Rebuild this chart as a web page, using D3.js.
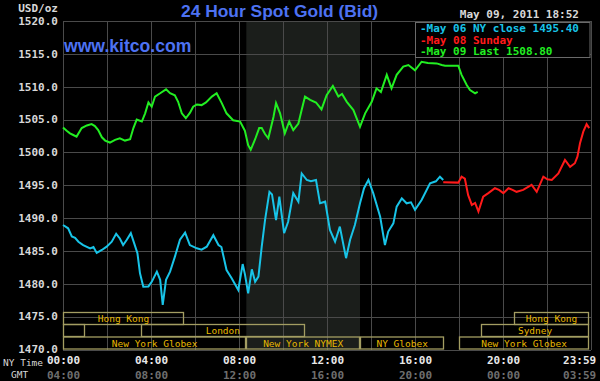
<!DOCTYPE html>
<html><head><meta charset="utf-8">
<script src="https://cdnjs.cloudflare.com/ajax/libs/d3/7.8.5/d3.min.js"></script>
<style>
html,body{margin:0;padding:0;background:#000;}
svg{display:block;}
</style></head>
<body>
<svg id="chart" width="600" height="381"></svg>
<script>
const titleText = "24 Hour Spot Gold (Bid)";
const siteText = "www.kitco.com";
const dateText = "May 09, 2011 18:52";
const unitText = "USD/oz";

const yTicks = [1470, 1475, 1480, 1485, 1490, 1495, 1500, 1505, 1510, 1515, 1520];
const xTickMinutes = [0, 240, 480, 720, 960, 1200, 1439];
const nyTimeLabels = ["00:00", "04:00", "08:00", "12:00", "16:00", "20:00", "23:59"];
const gmtTimeLabels = ["04:00", "08:00", "12:00", "16:00", "20:00", "00:00", "03:59"];
const gridMinutes = [0,120,240,360,480,600,720,840,960,1080,1200,1320,1440];

const legendLabels = ["-May 06 NY close 1495.40", "-May 08 Sunday", "-May 09 Last 1508.80"];

// May 06 (cyan)
const may06Times = [0,14,24,33,42,55,74,83,92,106,119,133,145,155,164,174,185,194,203,210,219,233,242,256,265,272,281,292,305,319,333,346,365,378,392,410,424,432,446,460,478,490,496,505,515,524,533,542,551,563,570,581,590,603,614,628,642,651,665,676,690,701,715,728,742,755,772,783,796,810,821,833,846,865,878,887,901,910,924,937,949,960,978,1001,1017,1028,1037];
const may06Values = [1488.95,1488.45,1487.2,1487.0,1486.4,1485.9,1485.4,1485.6,1484.7,1485.15,1485.65,1486.4,1487.6,1486.9,1485.9,1486.7,1487.7,1486.2,1484.65,1481.6,1479.55,1479.6,1480.3,1481.85,1480.6,1476.8,1480.6,1481.85,1484.1,1486.7,1487.8,1485.9,1485.4,1485.2,1485.65,1487.4,1485.9,1485.6,1482.1,1480.85,1479.05,1483.0,1481.5,1478.55,1482.2,1480.3,1481.1,1485.65,1489.7,1494.0,1493.6,1489.7,1493.25,1487.7,1489.45,1493.8,1492.5,1496.8,1495.8,1495.6,1495.8,1492.25,1492.5,1488.2,1486.4,1488.7,1483.9,1486.7,1488.95,1492.25,1494.55,1495.8,1493.8,1490.2,1485.9,1487.95,1489.2,1491.75,1493.0,1492.25,1492.4,1491.25,1492.75,1495.3,1495.6,1496.3,1495.8];

// May 08 Sunday (red)
const may08Times = [1037,1078,1087,1096,1105,1115,1124,1133,1146,1160,1178,1189,1201,1215,1226,1237,1255,1278,1292,1310,1321,1333,1351,1369,1383,1396,1403,1410,1419,1428,1435];
const may08Values = [1495.45,1495.4,1496.3,1496.0,1493.5,1492.0,1492.3,1491.0,1493.25,1493.8,1494.55,1494.3,1493.8,1494.55,1494.3,1494.0,1494.3,1495.05,1494.0,1496.3,1495.9,1495.8,1496.8,1498.85,1497.8,1498.35,1499.35,1501.4,1503.15,1504.3,1503.7];

// May 09 (green)
const may09Times = [0,10,19,28,37,51,65,78,87,96,106,115,128,142,155,169,183,192,201,215,224,233,242,251,265,281,292,305,314,324,335,346,355,365,378,390,406,419,433,446,464,483,496,505,512,524,535,542,551,560,574,581,592,605,617,628,642,651,660,674,690,705,719,736,751,761,774,792,810,824,842,855,867,883,896,910,928,942,960,978,995,1019,1033,1042,1078,1087,1101,1110,1124,1131];
const may09Values = [1503.8,1503.3,1502.9,1502.65,1502.4,1503.7,1504.1,1504.3,1504.0,1503.4,1502.3,1501.8,1501.5,1501.9,1502.15,1501.8,1502.0,1503.7,1505.0,1504.7,1505.95,1507.6,1506.95,1508.5,1509.0,1509.6,1509.0,1508.7,1507.7,1505.95,1505.2,1506.0,1506.95,1507.3,1507.2,1507.6,1508.5,1509.0,1507.5,1505.95,1504.9,1504.7,1503.3,1501.1,1500.4,1502.0,1503.7,1503.7,1502.8,1502.15,1505.4,1507.5,1505.95,1502.9,1504.7,1503.4,1504.4,1506.5,1508.5,1508.0,1507.6,1506.55,1508.7,1510.1,1508.5,1508.9,1507.7,1506.45,1503.9,1505.95,1507.7,1509.75,1509.2,1511.8,1509.75,1511.8,1513.05,1513.3,1512.5,1513.8,1513.6,1513.55,1513.3,1513.2,1513.2,1511.8,1510.25,1509.5,1509.0,1509.2];

// market sessions: row, start minute, end minute, label
const sessionRows = [0, 0, 1, 1, 1, 2, 2, 2, 2];
const sessionStarts = [0, 1230, 0, 212, 1140, 0, 500, 810, 1080];
const sessionEnds = [330, 1435, 60, 660, 1435, 500, 810, 1040, 1435];
const sessionLabels = ["Hong Kong", "Hong Kong", "", "London", "Sydney", "New York Globex", "New York NYMEX", "NY Globex", "New York Globex"];
const nymexShade = [500, 810];

const svg = d3.select("#chart");
const W = 600, H = 381;
svg.append("rect").attr("width", W).attr("height", H).attr("fill", "#000");

const x = d3.scaleLinear().domain([0, 1440]).range([63, 591]);
const y = d3.scaleLinear().domain([1470, 1520]).range([349.5, 21]);

const mono = "'DejaVu Sans Mono', monospace";

// shaded NYMEX region
svg.append("rect")
  .attr("x", x(nymexShade[0])).attr("y", y(1520))
  .attr("width", x(nymexShade[1]) - x(nymexShade[0]))
  .attr("height", y(1470) - y(1520))
  .attr("fill", "#1b1e1b");

// gridlines
const grid = svg.append("g").attr("stroke", "#4a4a4a").attr("stroke-width", 1).attr("shape-rendering", "crispEdges");
grid.selectAll("line.h").data(yTicks).join("line")
  .attr("x1", x(0)).attr("x2", x(1440))
  .attr("y1", d => Math.round(y(d)) + 0.5).attr("y2", d => Math.round(y(d)) + 0.5);
grid.selectAll("line.v").data(gridMinutes).join("line")
  .attr("y1", y(1520)).attr("y2", y(1470))
  .attr("x1", d => Math.round(x(d)) + 0.5).attr("x2", d => Math.round(x(d)) + 0.5);

// sessions
const rowTop = [312.5, 324.5, 337];
const rowH = 12;
const sess = sessionRows.map((r, i) => ({row: r, s: sessionStarts[i], e: sessionEnds[i], label: sessionLabels[i]}));
const sg = svg.append("g");
sg.selectAll("rect").data(sess).join("rect")
  .attr("x", d => Math.round(x(d.s)) + 0.5)
  .attr("y", d => rowTop[d.row])
  .attr("width", d => Math.round(x(d.e)) - Math.round(x(d.s)) - 1)
  .attr("height", rowH)
  .attr("fill", "none").attr("stroke", "#a39d62").attr("stroke-width", 1.3);
sg.selectAll("text").data(sess.filter(d => d.label)).join("text")
  .attr("x", d => (x(d.s) + x(d.e)) / 2)
  .attr("y", d => rowTop[d.row] + 9.5)
  .attr("text-anchor", "middle")
  .attr("font-family", mono).attr("font-size", "9.5px")
  .attr("fill", "#e8b800")
  .text(d => d.label);

// lines
const line = d3.line().x(d => x(d.t)).y(d => y(d.v));
const zip = (ts, vs) => ts.map((t, i) => ({t, v: vs[i]}));
const series = [
  {data: zip(may06Times, may06Values), color: "#18c4e8"},
  {data: zip(may08Times, may08Values), color: "#ff1a1a"},
  {data: zip(may09Times, may09Values), color: "#22ee22"}
];
svg.append("g").selectAll("path").data(series).join("path")
  .attr("d", d => line(d.data))
  .attr("fill", "none")
  .attr("stroke", d => d.color)
  .attr("stroke-width", 2)
  .attr("stroke-linejoin", "miter");

// y axis
const yAxis = d3.axisLeft(y).tickValues(yTicks).tickSize(0).tickPadding(5).tickFormat(d3.format(".1f"));
const ya = svg.append("g").attr("transform", `translate(${x(0)},0)`).call(yAxis);
ya.select(".domain").remove();
ya.selectAll("text").attr("font-family", mono).attr("font-size", "11px").attr("font-weight", "bold").attr("fill", "#d8d8d8").attr("dy", "0.3em");

svg.append("text").attr("x", 58).attr("y", 11.5).attr("text-anchor", "end")
  .attr("font-family", mono).attr("font-size", "11px").attr("font-weight", "bold").attr("fill", "#d8d8d8").text(unitText);

// x axis NY
const xAxisNY = d3.axisBottom(x).tickValues(xTickMinutes).tickSize(0).tickPadding(0)
  .tickFormat((d, i) => nyTimeLabels[i]);
const xa = svg.append("g").attr("transform", `translate(0,355)`).call(xAxisNY);
xa.select(".domain").remove();
xa.selectAll("text").attr("font-family", mono).attr("font-size", "11px").attr("font-weight", "bold").attr("fill", "#e8e8e8").attr("dy", "0.8em");
const xAxisGMT = d3.axisBottom(x).tickValues(xTickMinutes).tickSize(0).tickPadding(0)
  .tickFormat((d, i) => gmtTimeLabels[i]);
const xg = svg.append("g").attr("transform", `translate(0,370)`).call(xAxisGMT);
xg.select(".domain").remove();
xg.selectAll("text").attr("font-family", mono).attr("font-size", "11px").attr("font-weight", "bold").attr("fill", "#6e6e6e").attr("dy", "0.8em");
[xa, xg].forEach(g => g.selectAll(".tick").filter((d, i) => i === xTickMinutes.length - 1)
  .select("text").attr("text-anchor", "end").attr("dx", "5"));

svg.append("text").attr("x", 3).attr("y", 365.5).attr("font-family", mono).attr("font-size", "9.5px").attr("fill", "#d8d8d8").text("NY Time");
svg.append("text").attr("x", 11).attr("y", 377.5).attr("font-family", mono).attr("font-size", "9.5px").attr("fill", "#d8d8d8").text("GMT");

// title, site, date
svg.append("text").attr("x", 181).attr("y", 17).attr("font-family", "'Liberation Sans', Arial, sans-serif")
  .attr("font-size", "17.4px").attr("font-weight", "bold").attr("fill", "#4d72f2").text(titleText);
svg.append("text").attr("x", 64).attr("y", 52).attr("font-family", "'Liberation Sans', Arial, sans-serif")
  .attr("font-size", "17.6px").attr("font-weight", "bold").attr("fill", "#4d72f2").text(siteText);
svg.append("text").attr("x", 579).attr("y", 17.5).attr("text-anchor", "end").attr("font-family", mono)
  .attr("font-size", "11px").attr("font-weight", "bold").attr("fill", "#d8d8d8").text(dateText);

// legend
const lg = svg.append("g");
lg.append("rect").attr("x", 415.5).attr("y", 22.5).attr("width", 174.5).attr("height", 35)
  .attr("fill", "#000").attr("stroke", "#6a6a6a").attr("stroke-width", 1);
lg.selectAll("text").data(legendLabels).join("text")
  .attr("x", 420).attr("y", (d, i) => 32 + i * 11.6)
  .attr("font-family", mono).attr("font-size", "11px").attr("font-weight", "bold")
  .attr("fill", (d, i) => series[i].color)
  .text(d => d);
</script>
</body></html>
